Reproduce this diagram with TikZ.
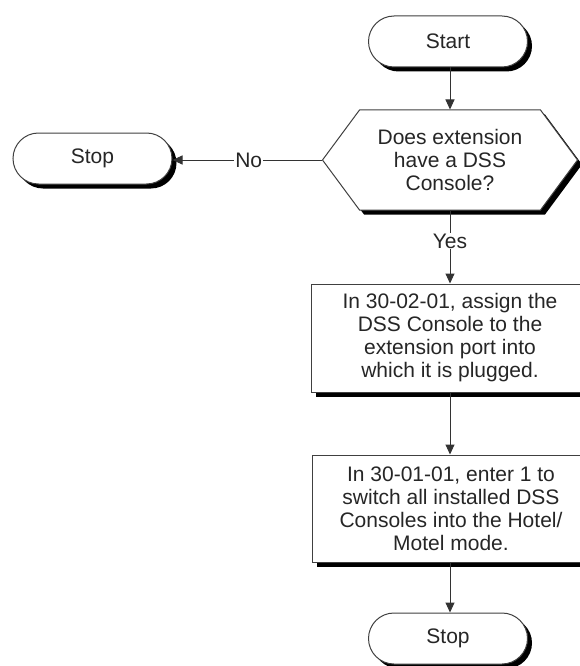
\documentclass[tikz,border=0pt]{standalone}
\usepackage{fontspec}
\setmainfont{Liberation Sans}
\usetikzlibrary{shapes.misc,shapes.symbols,shadows,arrows.meta}
\tikzset{
  lbl/.style={font=\fontsize{21}{23}\selectfont, align=center, text=black!85},
  shad/.style={drop shadow={shadow xshift=4.5pt, shadow yshift=-4.5pt, fill=black, opacity=1}},
  outl/.style={draw=black!75, line width=1pt, fill=white},
  term/.style={lbl, outl, shad, rounded rectangle, minimum width=159pt, minimum height=51pt, inner sep=0pt},
  procbox/.style={lbl, outl, shad, rectangle, minimum width=277pt, inner sep=0pt},
  decision/.style={lbl, outl, shad, signal, signal to=west and east, signal pointer angle=107, minimum width=255pt, minimum height=100pt, inner sep=0pt},
  flow/.style={draw=black!80, line width=1pt, -{Triangle[length=10pt,width=9pt]}},
  edgelbl/.style={lbl, fill=white, inner sep=1pt}
}
\begin{document}
\begin{tikzpicture}[x=1pt,y=-1pt]
\useasboundingbox (0,0) rectangle (580,666);
\clip (0,0) rectangle (580,666);
\node[term] (start) at (448,41.5) {Start};
\node[decision] (q) at (450,160) {Does extension\\have a DSS\\Console?};
\node[term] (stopA) at (92.5,158.5) {Stop};
\node[procbox, minimum height=108pt] (b1) at (450,338) {In 30-02-01, assign the\\DSS Console to the\\extension port into\\which it is plugged.};
\node[procbox, minimum height=107pt] (b2) at (451,508.5) {In 30-01-01, enter 1 to\\switch all installed DSS\\Consoles into the Hotel/\\Motel mode.};
\node[term] (stopB) at (448,638.5) {Stop};
\draw[flow] (start.south -| q.north) -- (q.north);
\draw[flow] (q.west) -- node[edgelbl, pos=0.49] (no) {No} (q.west -| stopA.east);
\draw[flow] (q.south) -- node[edgelbl, pos=0.42] (yes) {Yes} (b1.north);
\draw[flow] (b1.south) -- (b1.south |- b2.north);
\draw[flow] (b2.south -| b1.south) -- (b1.south |- stopB.north);
\end{tikzpicture}
\end{document}
